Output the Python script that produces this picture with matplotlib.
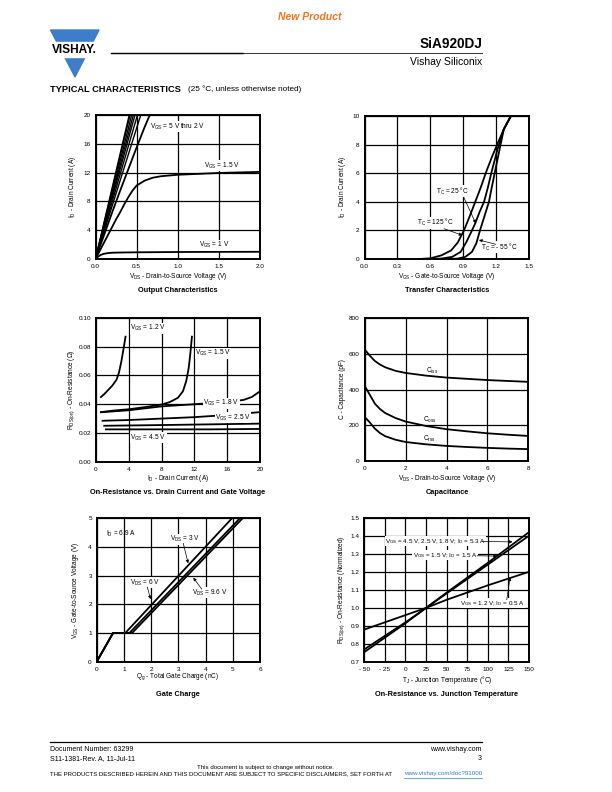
import matplotlib
matplotlib.use("Agg")
import matplotlib.pyplot as plt
from matplotlib.patches import Polygon, Rectangle

plt.rcParams['font.family'] = ['Liberation Sans', 'DejaVu Sans']
plt.rcParams['mathtext.fontset'] = 'custom'
plt.rcParams['mathtext.rm'] = 'Liberation Sans'
plt.rcParams['mathtext.it'] = 'Liberation Sans:italic'
plt.rcParams['mathtext.bf'] = 'Liberation Sans:bold'

# Output characteristics
out_bundle_x20 = [0.41, 0.42, 0.44, 0.46, 0.48, 0.51, 0.55]   # VGS 5 V ... 2.5 V reach 20 A
out_vgs2_vds = [0, 0.1, 0.2, 0.3, 0.4, 0.5, 0.6, 0.66]
out_vgs2_id = [0, 3.2, 6.4, 9.5, 12.5, 15.5, 18.4, 20]
out_vgs15_vds = [0, 0.05, 0.1, 0.15, 0.2, 0.25, 0.3, 0.35, 0.4, 0.45, 0.5, 0.6, 0.7, 0.8, 1.0, 1.2, 1.5, 2.0]
out_vgs15_id = [0, 1.1, 2.2, 3.3, 4.4, 5.5, 6.5, 7.6, 8.6, 9.5, 10.2, 10.9, 11.3, 11.5, 11.7, 11.8, 11.95, 12.1]
out_vgs1_vds = [0, 0.03, 0.06, 0.1, 0.15, 0.2, 0.3, 0.5, 1.0, 1.5, 2.0]
out_vgs1_id = [0, 0.3, 0.55, 0.72, 0.82, 0.87, 0.9, 0.93, 0.97, 0.99, 1.0]

# Transfer characteristics
tr125_vgs = [0.5, 0.6, 0.7, 0.79, 0.85, 0.907, 0.96, 1.01, 1.06, 1.105, 1.16, 1.215, 1.27, 1.335]
tr125_id = [0, 0.05, 0.25, 0.6, 1.15, 2.0, 3.0, 4.0, 5.0, 6.0, 7.1, 8.1, 9.07, 10]
tr25_vgs = [0.6, 0.7, 0.8, 0.877, 0.93, 0.98, 1.01, 1.05, 1.09, 1.125, 1.156, 1.21, 1.27, 1.335]
tr25_id = [0, 0.03, 0.15, 0.5, 1.2, 2.0, 2.5, 3.3, 4.0, 5.0, 6.0, 7.6, 9.07, 10]
trm55_vgs = [0.75, 0.85, 0.92, 0.98, 1.02, 1.053, 1.09, 1.135, 1.16, 1.187, 1.23, 1.27, 1.335]
trm55_id = [0, 0.03, 0.15, 0.5, 1.1, 2.0, 2.9, 4.0, 5.0, 6.0, 7.6, 9.07, 10]

# On-resistance vs drain current
ron12_id = [0.6, 1.0, 1.5, 2.0, 2.5, 2.8, 3.1, 3.4, 3.6]
ron12_r = [0.045, 0.047, 0.050, 0.053, 0.057, 0.062, 0.070, 0.080, 0.087]
ron15_id = [0.6, 2, 4, 6, 8, 9, 10, 10.6, 11, 11.3, 11.5, 11.7]
ron15_r = [0.0345, 0.0355, 0.0365, 0.038, 0.0398, 0.0415, 0.0445, 0.049, 0.056, 0.065, 0.075, 0.087]
ron18_id = [0.6, 4, 8, 12, 16, 18, 19, 20]
ron18_r = [0.0344, 0.0358, 0.0385, 0.040, 0.0415, 0.043, 0.045, 0.049]
ron25_id = [0.8, 4, 8, 12, 16, 20]
ron25_r = [0.0285, 0.029, 0.030, 0.031, 0.0325, 0.0345]
ron33_id = [1.0, 8, 14, 20]
ron33_r = [0.025, 0.0255, 0.026, 0.0265]
ron45_id = [1.2, 8, 14, 20]
ron45_r = [0.0225, 0.0225, 0.0225, 0.0228]

# Capacitance
cap_vds = [0, 0.25, 0.5, 0.75, 1, 1.5, 2, 3, 4, 5, 6, 7, 8]
ciss = [625, 590, 560, 540, 525, 505, 493, 478, 467, 460, 453, 448, 443]
coss = [420, 370, 320, 290, 268, 240, 220, 195, 177, 165, 154, 146, 139]
crss = [245, 215, 180, 155, 138, 118, 105, 92, 83, 77, 72, 68, 65]

# Gate charge
qg_3v = [0, 0.6, 1.05, 4.97]
qg_6v = [0, 0.6, 1.2, 5.26]
qg_96v = [0, 0.6, 1.3, 5.36]
qg_vgs = [0, 1, 1, 5]

# On-resistance vs junction temperature
tj = [-50, 0, 25, 50, 100, 150]
rn_all = [0.755, 0.915, 1.0, 1.085, 1.25, 1.42]
rn_15 = [0.77, 0.92, 1.0, 1.08, 1.24, 1.40]
rn_12 = [0.88, 0.96, 1.0, 1.045, 1.125, 1.2]

W, H = 612, 792
fig = plt.figure(figsize=(W / 100, H / 100), dpi=100)

def fx(x):
    return x / W

def fy(y):
    return 1 - y / H

def txt(x, y, s, **kw):
    fig.text(fx(x), fy(y), s, **kw)

def make_ax(l, t, r, b, xlim, ylim, xt, yt, xtl, ytl):
    ax = fig.add_axes([fx(l), fy(b), fx(r - l), (b - t) / H])
    ax.set_xlim(*xlim)
    ax.set_ylim(*ylim)
    ax.set_xticks(xt)
    ax.set_yticks(yt)
    ax.set_xticklabels(xtl)
    ax.set_yticklabels(ytl)
    ax.tick_params(length=0, pad=3.5, labelsize=4.6)
    ax.grid(True, color='black', lw=0.9)
    for s in ax.spines.values():
        s.set_linewidth(1.4)
    return ax

lw = 1.3
fs = 4.7
tfs = 5.3
arrow = dict(arrowstyle='-|>', lw=0.5, color='k', mutation_scale=4.5, shrinkA=0, shrinkB=0)
wbox = dict(facecolor='white', edgecolor='none', pad=0.3)

# ---- header ----
txt(310, 17, 'New Product', color='#F07522', fontsize=7.5, fontweight='bold',
    fontstyle='italic', ha='center', va='center')
fig.patches.append(Polygon([[fx(50.5), fy(30)], [fx(99), fy(30)], [fx(75), fy(77)]],
                           closed=True, transform=fig.transFigure, color='#3D7DCA'))
fig.patches.append(Rectangle((fx(48), fy(56.5)), fx(54), 14.5 / H,
                             transform=fig.transFigure, color='white'))
txt(74.5, 50, 'VISHAY.', fontsize=8.6, fontweight='bold', ha='center', va='center')
fig.add_artist(plt.Line2D([fx(111), fx(243)], [fy(53), fy(53)], color='black', lw=1.0))
fig.add_artist(plt.Line2D([fx(243), fx(482)], [fy(53.3), fy(53.3)], color='#333333', lw=0.7))
txt(482, 44, 'SiA920DJ', fontsize=9.8, fontweight='bold', ha='right', va='center')
txt(482, 62, 'Vishay Siliconix', fontsize=7.5, ha='right', va='center')
txt(50, 89.5, 'TYPICAL CHARACTERISTICS', fontsize=6.7, fontweight='bold', ha='left', va='center')
txt(188, 89.5, '(25 °C, unless otherwise noted)', fontsize=5.9, ha='left', va='center')

# ---- Output characteristics ----
ax1 = make_ax(95.5, 115, 260, 259, (0, 2), (0, 20), [0, 0.5, 1, 1.5, 2], [0, 4, 8, 12, 16, 20],
              ['0.0', '0.5', '1.0', '1.5', '2.0'], ['0', '4', '8', '12', '16', '20'])
for x20 in out_bundle_x20:
    ax1.plot([0, x20], [0, 20], color='k', lw=1.0)
ax1.plot(out_vgs2_vds, out_vgs2_id, color='k', lw=lw)
ax1.plot(out_vgs15_vds, out_vgs15_id, color='k', lw=lw)
ax1.plot(out_vgs1_vds, out_vgs1_id, color='k', lw=lw)
ax1.text(0.66, 18.4, r'V$_{\rm GS}$ = 5 V thru 2 V', fontsize=fs, va='center', bbox=wbox)
ax1.text(1.32, 12.96, r'V$_{\rm GS}$ = 1.5 V', fontsize=fs, va='center', bbox=wbox)
ax1.text(1.26, 1.94, r'V$_{\rm GS}$ = 1 V', fontsize=fs, va='center', bbox=wbox)
txt(178, 277, r'V$_{\rm DS}$ - Drain-to-Source Voltage (V)', fontsize=fs, ha='center', va='center')
txt(73, 187, r'I$_{\rm D}$ - Drain Current (A)', fontsize=fs, ha='center', va='center', rotation=90)
txt(178, 291, 'Output Characteristics', fontsize=tfs, fontweight='bold', ha='center', va='center')

# ---- Transfer characteristics ----
ax2 = make_ax(364.5, 116, 529, 259, (0, 1.5), (0, 10), [0, 0.3, 0.6, 0.9, 1.2, 1.5], [0, 2, 4, 6, 8, 10],
              ['0.0', '0.3', '0.6', '0.9', '1.2', '1.5'], ['0', '2', '4', '6', '8', '10'])
ax2.plot(tr125_vgs, tr125_id, color='k', lw=lw)
ax2.plot(tr25_vgs, tr25_id, color='k', lw=lw)
ax2.plot(trm55_vgs, trm55_id, color='k', lw=lw)
ax2.text(0.649, 4.75, r'T$_{\rm C}$ = 25 °C', fontsize=fs, va='center', bbox=wbox)
ax2.annotate('', xy=(1.014, 2.5), xytext=(0.907, 4.29), arrowprops=arrow)
ax2.text(0.476, 2.54, r'T$_{\rm C}$ = 125 °C', fontsize=fs, va='center', bbox=wbox)
ax2.annotate('', xy=(0.892, 1.66), xytext=(0.725, 2.12), arrowprops=arrow)
ax2.text(1.06, 0.84, r'T$_{\rm C}$ = - 55 °C', fontsize=fs, va='center', bbox=wbox)
ax2.annotate('', xy=(1.044, 1.33), xytext=(1.196, 1.03), arrowprops=arrow)
txt(447, 277, r'V$_{\rm GS}$ - Gate-to-Source Voltage (V)', fontsize=fs, ha='center', va='center')
txt(343, 187, r'I$_{\rm D}$ - Drain Current (A)', fontsize=fs, ha='center', va='center', rotation=90)
txt(447, 291, 'Transfer Characteristics', fontsize=tfs, fontweight='bold', ha='center', va='center')

# ---- On-resistance vs drain current ----
ax3 = make_ax(96, 318, 260, 461.7, (0, 20), (0, 0.10), [0, 4, 8, 12, 16, 20],
              [0, 0.02, 0.04, 0.06, 0.08, 0.10],
              ['0', '4', '8', '12', '16', '20'], ['0.00', '0.02', '0.04', '0.06', '0.08', '0.10'])
for xs, ys in [(ron12_id, ron12_r), (ron15_id, ron15_r), (ron18_id, ron18_r),
               (ron25_id, ron25_r), (ron33_id, ron33_r), (ron45_id, ron45_r)]:
    ax3.plot(xs, ys, color='k', lw=lw)
for x, y, s in [(4.2, 0.093, '1.2'), (12.1, 0.0756, '1.5'), (13.1, 0.0407, '1.8'),
                (14.5, 0.0307, '2.5'), (4.2, 0.0167, '4.5')]:
    ax3.text(x, y, r'V$_{\rm GS}$ = ' + s + ' V', fontsize=fs, va='center', bbox=wbox)
txt(178, 478.5, r'I$_{\rm D}$ - Drain Current (A)', fontsize=fs, ha='center', va='center')
txt(71.5, 390, r'R$_{\rm DS(on)}$ - On-Resistance (Ω)', fontsize=fs, ha='center', va='center', rotation=90)
txt(178, 492.5, 'On-Resistance vs. Drain Current and Gate Voltage', fontsize=tfs,
    fontweight='bold', ha='center', va='center')

# ---- Capacitance ----
ax4 = make_ax(364.7, 318.3, 528.3, 460.7, (0, 8), (0, 800), [0, 2, 4, 6, 8], [0, 200, 400, 600, 800],
              ['0', '2', '4', '6', '8'], ['0', '200', '400', '600', '800'])
ax4.plot(cap_vds, ciss, color='k', lw=lw)
ax4.plot(cap_vds, coss, color='k', lw=lw)
ax4.plot(cap_vds, crss, color='k', lw=lw)
ax4.text(3.0, 506, r'C$_{\rm iss}$', fontsize=fs, va='center')
ax4.text(2.85, 229, r'C$_{\rm oss}$', fontsize=fs, va='center')
ax4.text(2.87, 124, r'C$_{\rm rss}$', fontsize=fs, va='center')
txt(447, 479, r'V$_{\rm DS}$ - Drain-to-Source Voltage (V)', fontsize=fs, ha='center', va='center')
txt(342, 389, 'C - Capacitance (pF)', fontsize=fs, ha='center', va='center', rotation=90)
txt(447, 492.5, 'Capacitance', fontsize=tfs, fontweight='bold', ha='center', va='center')

# ---- Gate charge ----
ax5 = make_ax(96.7, 518.3, 260, 661.7, (0, 6), (0, 5), [0, 1, 2, 3, 4, 5, 6], [0, 1, 2, 3, 4, 5],
              ['0', '1', '2', '3', '4', '5', '6'], ['0', '1', '2', '3', '4', '5'])
ax5.plot(qg_3v, qg_vgs, color='k', lw=lw)
ax5.plot(qg_6v, qg_vgs, color='k', lw=lw)
ax5.plot(qg_96v, qg_vgs, color='k', lw=lw)
ax5.text(0.34, 4.45, r'I$_{\rm D}$ = 6.9 A', fontsize=fs, va='center')
ax5.text(2.69, 4.27, r'V$_{\rm DS}$ = 3 V', fontsize=fs, va='center', bbox=wbox)
ax5.annotate('', xy=(3.36, 3.43), xytext=(3.18, 4.13), arrowprops=arrow)
ax5.text(1.22, 2.76, r'V$_{\rm DS}$ = 6 V', fontsize=fs, va='center', bbox=wbox)
ax5.annotate('', xy=(1.98, 2.18), xytext=(1.86, 2.6), arrowprops=arrow)
ax5.text(3.51, 2.41, r'V$_{\rm DS}$ = 9.6 V', fontsize=fs, va='center', bbox=wbox)
ax5.annotate('', xy=(3.55, 2.93), xytext=(3.86, 2.53), arrowprops=arrow)
txt(178, 677, r'Q$_{\rm g}$ - Total Gate Charge (nC)', fontsize=fs, ha='center', va='center')
txt(75.5, 590, r'V$_{\rm GS}$ - Gate-to-Source Voltage (V)', fontsize=fs, ha='center', va='center', rotation=90)
txt(178, 694.5, 'Gate Charge', fontsize=tfs, fontweight='bold', ha='center', va='center')

# ---- On-resistance vs junction temperature ----
ax6 = make_ax(364.3, 517.7, 529, 662, (-50, 150), (0.7, 1.5), [-50, -25, 0, 25, 50, 75, 100, 125, 150],
              [0.7, 0.8, 0.9, 1.0, 1.1, 1.2, 1.3, 1.4, 1.5],
              ['- 50', '- 25', '0', '25', '50', '75', '100', '125', '150'],
              ['0.7', '0.8', '0.9', '1.0', '1.1', '1.2', '1.3', '1.4', '1.5'])
ax6.plot(tj, rn_all, color='k', lw=lw)
ax6.plot(tj, rn_15, color='k', lw=lw)
ax6.plot(tj, rn_12, color='k', lw=lw)
ax6.text(-24.9, 1.37, r'V$_{\rm GS}$ = 4.5 V, 2.5 V, 1.8 V; I$_{\rm D}$ = 5.3 A', fontsize=4.5,
         va='center', bbox=wbox)
ax6.annotate('', xy=(130, 1.366), xytext=(93, 1.368), arrowprops=arrow)
ax6.text(8.8, 1.292, r'V$_{\rm GS}$ = 1.5 V; I$_{\rm D}$ = 1.5 A', fontsize=4.5, va='center', bbox=wbox)
ax6.annotate('', xy=(111, 1.287), xytext=(87, 1.289), arrowprops=arrow)
ax6.text(66.2, 1.026, r'V$_{\rm GS}$ = 1.2 V; I$_{\rm D}$ = 0.5 A', fontsize=4.5, va='center', bbox=wbox)
ax6.annotate('', xy=(127, 1.17), xytext=(123, 1.045), arrowprops=arrow)
txt(447, 679.5, r'T$_{\rm J}$ - Junction Temperature (°C)', fontsize=fs, ha='center', va='center')
txt(342, 590, r'R$_{\rm DS(on)}$ - On-Resistance (Normalized)', fontsize=fs, ha='center', va='center', rotation=90)
txt(447, 694.5, 'On-Resistance vs. Junction Temperature', fontsize=tfs, fontweight='bold',
    ha='center', va='center')

# ---- footer ----
fig.add_artist(plt.Line2D([fx(50), fx(482)], [fy(741.5), fy(741.5)], color='black', lw=0.9))
txt(50, 749.3, 'Document Number: 63299', fontsize=5, va='center')
txt(50, 758.7, 'S11-1381-Rev. A, 11-Jul-11', fontsize=5, va='center')
txt(482, 749.3, 'www.vishay.com', fontsize=5, ha='right', va='center')
txt(482, 758.7, '3', fontsize=5, ha='right', va='center')
txt(265, 767, 'This document is subject to change without notice.', fontsize=4.4, ha='center', va='center')
txt(50, 773.5, 'THE PRODUCTS DESCRIBED HEREIN AND THIS DOCUMENT ARE SUBJECT TO SPECIFIC DISCLAIMERS, SET FORTH AT',
    fontsize=4.3, va='center')
txt(482, 773.5, 'www.vishay.com/doc?91000', fontsize=4.5, ha='right', va='center', color='#2A7FD0')
fig.add_artist(plt.Line2D([fx(404), fx(482)], [fy(777.5), fy(777.5)], color='#2A7FD0', lw=0.5))

fig.savefig('out.png', dpi=100)
